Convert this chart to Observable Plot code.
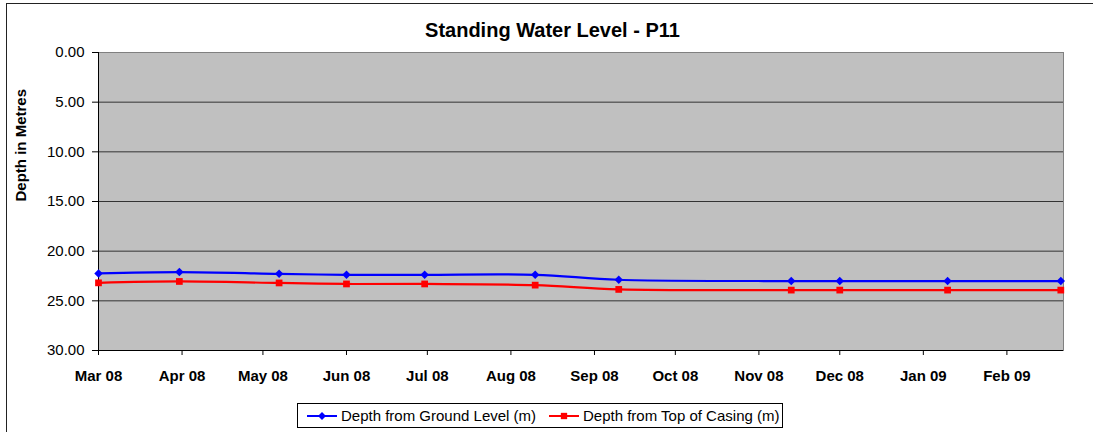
<!DOCTYPE html>
<html>
<head>
<meta charset="utf-8">
<script src="https://cdn.jsdelivr.net/npm/d3@7"></script>
<script src="https://cdn.jsdelivr.net/npm/@observablehq/plot@0.6"></script>
<style>
html, body { margin: 0; padding: 0; width: 1093px; height: 432px; overflow: hidden; background: #fff;
  font-family: "Liberation Sans", Arial, sans-serif; }
#border { position: absolute; left: 6px; top: 3px; width: 1100px; height: 440px; border: 1px solid #222; box-sizing: border-box; }
#title { position: absolute; left: 6px; width: 1093px; top: 20px; text-align: center; font-size: 20px; line-height: 20px; font-weight: bold; color: #000; }
#chart { position: absolute; left: 0; top: 0; }
#legend { position: absolute; left: 297px; top: 403px; width: 486px; height: 25px; border: 1px solid #000; box-sizing: border-box; background: #fff; }
.item { position: absolute; top: 0; height: 23px; display: flex; align-items: center; font-size: 15px; color: #000; white-space: nowrap; }
.item svg { margin-right: 4px; }
</style>
</head>
<body>
<div id="border"></div>
<div id="title">Standing Water Level - P11</div>
<div id="chart"></div>
<div id="legend"></div>
<script>
// ---- data ----
const dates = ["2008-03-01","2008-03-31","2008-05-07","2008-06-01","2008-06-30","2008-08-10",
               "2008-09-10","2008-11-13","2008-12-01","2009-01-10","2009-02-21"];
const groundLevel = [22.24, 22.10, 22.28, 22.38, 22.38, 22.38, 22.88, 23.01, 23.01, 23.01, 23.01];
const topOfCasing = [23.19, 23.05, 23.20, 23.30, 23.30, 23.42, 23.85, 23.92, 23.92, 23.92, 23.92];
const seriesNames = ["Depth from Ground Level (m)", "Depth from Top of Casing (m)"];
const seriesColors = ["#0000ff", "#ff0000"];
const seriesSymbols = ["diamond2", "square"];
const yTicks = [0, 5, 10, 15, 20, 25, 30];
const xStart = "2008-03-01", xEnd = "2009-02-22";
const yLabel = "Depth in Metres";

const parse = d3.utcParse("%Y-%m-%d");
const rows = [];
[groundLevel, topOfCasing].forEach((vals, s) => {
  vals.forEach((v, i) => rows.push({date: parse(dates[i]), value: v, series: seriesNames[s]}));
});
const x0 = parse(xStart), x1 = parse(xEnd);
const monthTicks = d3.utcMonth.range(x0, x1);

const chart = Plot.plot({
  width: 1093,
  height: 395,
  marginLeft: 98,
  marginRight: 30,
  marginTop: 52,
  marginBottom: 45,
  style: {fontFamily: '"Liberation Sans", Arial, sans-serif', fontSize: "15px", background: "transparent", color: "#000"},
  x: {type: "utc", domain: [x0, x1]},
  y: {domain: [0, 30], reverse: true},
  color: {domain: seriesNames, range: seriesColors},
  symbol: {domain: seriesNames, range: seriesSymbols},
  marks: [
    Plot.frame({fill: "#c0c0c0", stroke: "#808080"}),
    Plot.ruleY(yTicks.slice(1, -1), {stroke: "#333", strokeWidth: 1}),
    Plot.ruleX([x0], {stroke: "#000"}),
    Plot.ruleY([30], {stroke: "#000"}),
    Plot.axisY({ticks: yTicks, tickFormat: d => d.toFixed(2), tickSize: 6, tickPadding: 8, fontSize: 15, label: null}),
    Plot.axisX({ticks: monthTicks, tickFormat: d3.utcFormat("%b %y"), tickSize: 5, tickPadding: 15,
                fontSize: 15, fontWeight: "bold", label: null}),
    Plot.text([yLabel], {frameAnchor: "left", dx: -77, rotate: -90, fontWeight: "bold", fontSize: 15}),
    Plot.line(rows, {x: "date", y: "value", stroke: "series", z: "series", strokeWidth: 2.2, curve: "catmull-rom"}),
    Plot.dot(rows, {x: "date", y: "value", fill: "series", symbol: "series", r: 3.8, stroke: "none"})
  ]
});
document.getElementById("chart").appendChild(chart);

// legend
const legend = document.getElementById("legend");
const itemLeft = [9, 251];
seriesNames.forEach((name, i) => {
  const item = document.createElement("div");
  item.className = "item";
  item.style.left = itemLeft[i] + "px";
  const symbolPath = d3.symbol(i === 0 ? d3.symbolDiamond2 : d3.symbolSquare, 40)();
  item.innerHTML = `<svg width="30" height="10"><line x1="0" x2="30" y1="5" y2="5" stroke="${seriesColors[i]}" stroke-width="2"/>` +
    `<path d="${symbolPath}" transform="translate(15,5)" fill="${seriesColors[i]}"/></svg><span>${name}</span>`;
  legend.appendChild(item);
});
</script>
</body>
</html>
